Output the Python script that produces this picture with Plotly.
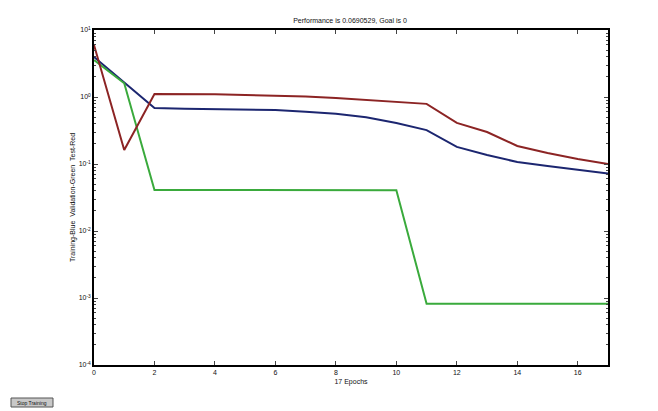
import plotly.graph_objects as go

epochs = list(range(18))
train_blue = [3.95, 1.67, 0.685, 0.67, 0.66, 0.65, 0.64, 0.60, 0.56, 0.50, 0.41, 0.32,
              0.18, 0.136, 0.107, 0.093, 0.081, 0.072]
valid_green = [3.57, 1.6, 0.041, 0.041, 0.041, 0.041, 0.041, 0.041, 0.041, 0.041, 0.0405,
               0.00082, 0.00082, 0.00082, 0.00082, 0.00082, 0.00082, 0.00082]
test_red = [5.97, 0.162, 1.11, 1.11, 1.10, 1.07, 1.05, 1.02, 0.97, 0.90, 0.83, 0.79,
            0.41, 0.30, 0.186, 0.146, 0.119, 0.10]

x_ticks = [0, 2, 4, 6, 8, 10, 12, 14, 16]
y_tickvals = [1e-4, 1e-3, 1e-2, 1e-1, 1e0, 1e1]
y_ticktext = ["10<sup>-4</sup>", "10<sup>-3</sup>", "10<sup>-2</sup>",
              "10<sup>-1</sup>", "10<sup>0</sup>", "10<sup>1</sup>"]

title_text = "Performance is 0.0690529, Goal is 0"
x_title = "17 Epochs"
y_title = "Training-Blue  Validation-Green  Test-Red"
button_text = "Stop Training"

fig = go.Figure()
fig.add_trace(go.Scatter(x=epochs, y=train_blue, mode="lines",
                         line=dict(color="#1c2670", width=2), name="Training"))
fig.add_trace(go.Scatter(x=epochs, y=valid_green, mode="lines",
                         line=dict(color="#3aaa3c", width=2), name="Validation"))
fig.add_trace(go.Scatter(x=epochs, y=test_red, mode="lines",
                         line=dict(color="#8c2424", width=2), name="Test"))

font = dict(family="Liberation Sans, Arial, sans-serif", size=7, color="#111")

# page body has an 8px margin; plot area should land at x 94..608, y 30..365
L, T = 86, 22
R, B = 58, 54
PW, PH = 658 - L - R, 411 - T - B

def px(xs):
    return (xs - 8 - L) / PW

def py(ys):
    return (8 + T + PH - ys) / PH

fig.update_layout(
    width=658, height=411,
    paper_bgcolor="white", plot_bgcolor="white",
    margin=dict(l=L, r=R, t=T, b=B, autoexpand=False),
    showlegend=False,
    font=font,
    title=dict(text=title_text, xref="container", yref="container",
               x=(350 - 8) / 658, xanchor="center",
               y=1 - (21 - 8) / 411, yanchor="middle",
               font=dict(size=7, color="#111")),
    xaxis=dict(range=[0, 17], tickvals=x_ticks, ticks="inside", ticklen=4,
               showgrid=False, zeroline=False, showline=True, linecolor="black",
               linewidth=1.5, mirror="ticks", tickfont=dict(size=7),
               title=dict(text=x_title, standoff=4, font=dict(size=7))),
    yaxis=dict(type="log", range=[-4, 1], tickvals=y_tickvals, ticktext=y_ticktext,
               ticks="inside", ticklen=4, showgrid=False, zeroline=False,
               showline=True, linecolor="black", linewidth=1.5, mirror="ticks",
               tickfont=dict(size=7),
               minor=dict(ticks="inside", ticklen=2, dtick="D1", showgrid=False),
               title=dict(text=y_title, standoff=2, font=dict(size=7))),
)

fig.add_shape(type="rect", xref="paper", yref="paper",
              x0=px(11), x1=px(53), y0=py(407), y1=py(398),
              fillcolor="#c8c8c8", line=dict(color="#555", width=1))
fig.add_annotation(text=button_text, xref="paper", yref="paper",
                   x=px(32), y=py(402.5), xanchor="center", yanchor="middle",
                   showarrow=False, font=dict(size=5, color="#111"))

fig.write_html("out.html")
